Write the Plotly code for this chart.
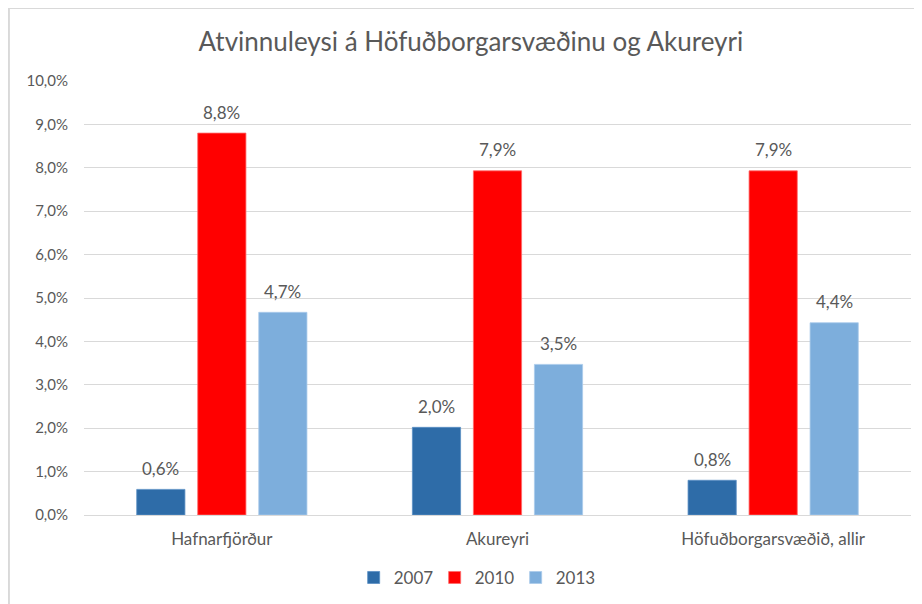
import plotly.graph_objects as go

categories = ["Hafnarfjörður", "Akureyri", "Höfuðborgarsvæðið, allir"]
series_names = ["2007", "2010", "2013"]
values_2007 = [0.59, 2.02, 0.80]
values_2010 = [8.80, 7.93, 7.93]
values_2013 = [4.67, 3.47, 4.43]
colors = ["#2E6CA8", "#FF0000", "#7DAEDC"]
edge_colors = ["#5B8FC4", "#FF6A6A", "#A9CAEB"]

font_family = "Lato, 'Open Sans', sans-serif"
grey = "#595959"

W, H = 922, 604
M = dict(l=76, r=19, t=73, b=97)
BARGAP = 0.336

fig = go.Figure()
all_series = [values_2007, values_2010, values_2013]
for name, vals, c, ec in zip(series_names, all_series, colors, edge_colors):
    fig.add_trace(go.Bar(
        name=name,
        x=categories,
        y=[v / 100 for v in vals],
        marker=dict(color=c, line=dict(color=ec, width=0.8)),
        cliponaxis=False,
    ))

# data labels above each bar (offset within group derived from bar layout)
plot_w = W - M["l"] - M["r"]
slot = (1 - BARGAP) * plot_w / len(categories) / len(series_names)
for i, vals in enumerate(all_series):
    for cat, v in zip(categories, vals):
        fig.add_annotation(
            x=cat, y=v / 100, xref="x", yref="y",
            text=f"{v:.1f}".replace(".", ",") + "%",
            showarrow=False, xshift=(i - 1) * slot, yshift=21,
            yanchor="middle",
            font=dict(size=17, color=grey, family=font_family),
        )

fig.update_layout(
    width=W, height=H,
    margin=M,
    paper_bgcolor="white", plot_bgcolor="white",
    separators=",.",
    barmode="group",
    bargap=BARGAP,
    bargroupgap=0.21,
    title=dict(text="Atvinnuleysi á Höfuðborgarsvæðinu og Akureyri",
               x=0.502, xref="container", xanchor="center",
               y=0.944, yref="container", yanchor="middle",
               font=dict(size=26, color=grey, family=font_family)),
    font=dict(family=font_family, color=grey, size=17),
    legend=dict(orientation="h", x=0.473, xanchor="center", xref="paper",
                y=-0.145, yanchor="middle",
                font=dict(size=17, color=grey, family=font_family),
                itemwidth=30, entrywidth=36, entrywidthmode="pixels",
                traceorder="normal"),
    showlegend=True,
)
fig.update_yaxes(range=[0, 0.1], dtick=0.01, tickformat=".1%",
                 showgrid=True, gridcolor="#D9D9D9", gridwidth=1,
                 zeroline=True, zerolinecolor="#D9D9D9", zerolinewidth=1,
                 showline=False, ticks="", ticklabelstandoff=15,
                 tickfont=dict(size=15, color=grey, family=font_family))
fig.update_xaxes(showline=False, ticks="", showgrid=False,
                 ticklabelstandoff=12,
                 tickfont=dict(size=17, color=grey, family=font_family))

# chart frame (as in the reference screenshot)
fig.add_shape(type="line", xref="paper", yref="paper",
              x0=-0.092, x1=1.03, y0=1.168, y1=1.168,
              line=dict(color="#D9D9D9", width=2))
fig.add_shape(type="line", xref="paper", yref="paper",
              x0=-0.0908, x1=-0.0908, y0=1.168, y1=-0.23,
              line=dict(color="#D9D9D9", width=2))

fig.write_html("out.html")
